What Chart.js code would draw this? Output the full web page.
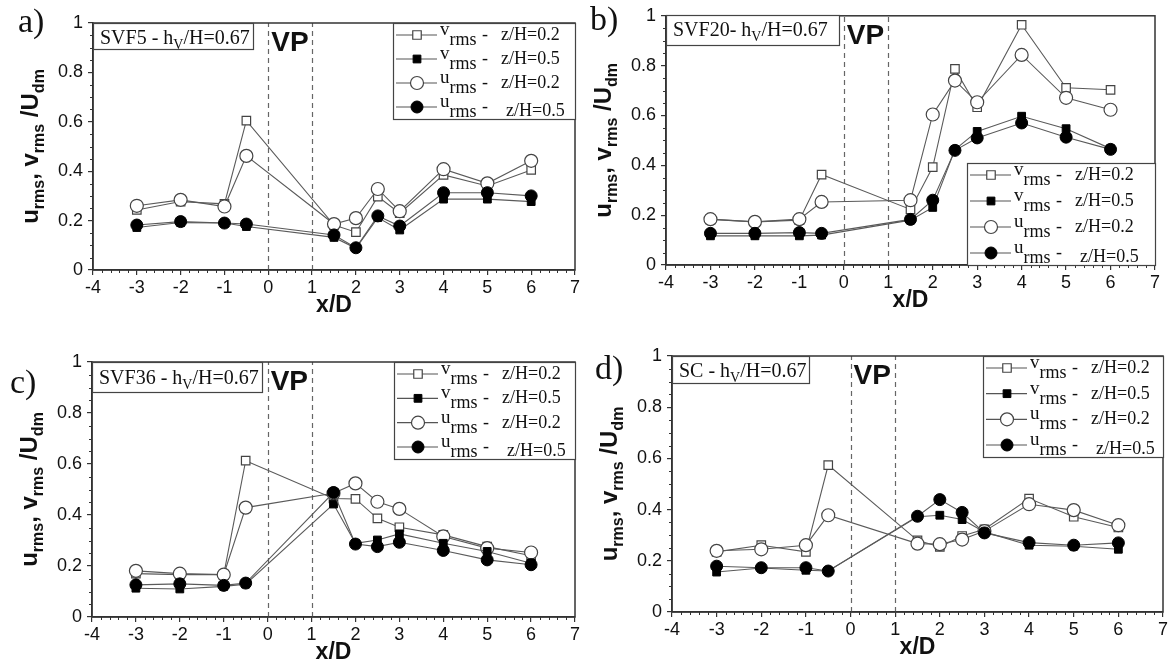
<!DOCTYPE html>
<html>
<head>
<meta charset="utf-8">
<script src="https://cdn.jsdelivr.net/npm/chart.js@4.4.0/dist/chart.umd.min.js"></script>
<style>
  body { margin: 0; background: #fff; width: 1173px; height: 665px; position: relative; overflow: hidden; }
  canvas { position: absolute; left: 0; top: 0; }
</style>
</head>
<body>
<canvas id="cA" width="1173" height="665"></canvas>
<canvas id="cB" width="1173" height="665"></canvas>
<canvas id="cC" width="1173" height="665"></canvas>
<canvas id="cD" width="1173" height="665"></canvas>
<script>
// stations x/D (same for all panels)
const xPos = [-3, -2, -1, -0.5, 1.5, 2, 2.5, 3, 4, 5, 6];
const xTickVals = [-4, -3, -2, -1, 0, 1, 2, 3, 4, 5, 6, 7];
const yTickVals = [0, 0.2, 0.4, 0.6, 0.8, 1];
const vpLines = [0, 1];

// a) SVF5
const svf5_v02 = [0.243, 0.277, 0.268, 0.605, 0.182, 0.153, 0.297, 0.230, 0.385, 0.340, 0.405];
const svf5_v05 = [0.172, 0.192, 0.190, 0.176, 0.132, 0.088, 0.212, 0.162, 0.287, 0.287, 0.277];
const svf5_u02 = [0.260, 0.284, 0.257, 0.462, 0.186, 0.210, 0.328, 0.238, 0.408, 0.351, 0.442];
const svf5_u05 = [0.182, 0.196, 0.190, 0.186, 0.142, 0.090, 0.219, 0.178, 0.313, 0.313, 0.300];
// b) SVF20
const svf20_v02 = [0.183, 0.173, 0.180, 0.363, 0.223, 0.393, 0.787, 0.633, 0.964, 0.711, 0.703];
const svf20_v05 = [0.117, 0.117, 0.117, 0.120, 0.180, 0.231, 0.463, 0.536, 0.597, 0.547, 0.467];
const svf20_u02 = [0.184, 0.173, 0.184, 0.253, 0.260, 0.604, 0.740, 0.653, 0.843, 0.671, 0.623];
const svf20_u05 = [0.127, 0.127, 0.130, 0.127, 0.183, 0.260, 0.460, 0.510, 0.570, 0.513, 0.464];
// c) SVF36
const svf36_v02 = [0.170, 0.166, 0.166, 0.613, 0.465, 0.463, 0.387, 0.352, 0.322, 0.276, 0.240];
const svf36_v05 = [0.113, 0.110, 0.120, 0.129, 0.443, 0.289, 0.302, 0.326, 0.289, 0.257, 0.211];
const svf36_u02 = [0.181, 0.170, 0.166, 0.429, 0.485, 0.524, 0.452, 0.424, 0.316, 0.270, 0.253];
const svf36_u05 = [0.126, 0.130, 0.124, 0.133, 0.488, 0.286, 0.276, 0.293, 0.261, 0.224, 0.205];
// d) SC
const sc_v02 = [0.235, 0.261, 0.235, 0.574, 0.280, 0.254, 0.297, 0.323, 0.443, 0.372, 0.330];
const sc_v05 = [0.156, 0.172, 0.163, 0.160, 0.372, 0.378, 0.361, 0.313, 0.261, 0.257, 0.245];
const sc_u02 = [0.239, 0.245, 0.261, 0.378, 0.267, 0.265, 0.283, 0.316, 0.421, 0.398, 0.339];
const sc_u05 = [0.179, 0.173, 0.173, 0.160, 0.374, 0.439, 0.389, 0.309, 0.271, 0.261, 0.270];

const panelLetters = ['a)', 'b)', 'c)', 'd)'];
const caseNames = ['SVF5 - h', 'SVF20- h', 'SVF36 - h', 'SC - h'];
const legendSym = ['v', 'v', 'u', 'u'];
const legendZ = ['z/H=0.2', 'z/H=0.5', 'z/H=0.2', 'z/H=0.5'];

const SANS = "'Liberation Sans', Arial, sans-serif";
const SERIF = "'Liberation Serif', 'Times New Roman', serif";

// marker styles, same order as legend rows
const styles = [
  { shape: 'rect', r: 6, fill: '#fff', stroke: '#444', bw: 1.2 },
  { shape: 'rect', r: 5.5, fill: '#000', stroke: '#000', bw: 1 },
  { shape: 'circle', r: 6.5, fill: '#fff', stroke: '#444', bw: 1.2 },
  { shape: 'circle', r: 6, fill: '#000', stroke: '#000', bw: 1 },
];

// page layout of each panel: plot area [left, top, right, bottom]
const layouts = [
  { area: [93, 23, 575, 270], letter: [18, 32], caseBox: [93, 23, 160, 26], caseBase: 44, legend: [393, 23, 182, 96] },
  { area: [666, 15, 1155, 265], letter: [590, 30], caseBox: [666, 15, 173, 30], caseBase: 36, legend: [967, 163, 188, 102] },
  { area: [92, 362, 575, 617], letter: [10, 393], caseBox: [92, 362, 170, 30], caseBase: 384, legend: [394, 362, 181, 97] },
  { area: [672, 356, 1163, 612], letter: [595, 379], caseBox: [672, 356, 137, 27], caseBase: 377, legend: [983, 356, 180, 101] },
];

function drawRuns(ctx, x, y, runs) {
  runs.forEach(r => {
    ctx.font = r.f;
    ctx.fillText(r.t, x, y + (r.dy || 0));
    x += ctx.measureText(r.t).width;
  });
  return x;
}
function runsWidth(ctx, runs) {
  let w = 0;
  runs.forEach(r => { ctx.font = r.f; w += ctx.measureText(r.t).width; });
  return w;
}
function marker(ctx, st, x, y) {
  ctx.beginPath();
  if (st.shape === 'rect') {
    const s = st.r * Math.SQRT1_2;
    ctx.rect(x - s, y - s, 2 * s, 2 * s);
  } else {
    ctx.arc(x, y, st.r, 0, Math.PI * 2);
  }
  ctx.fillStyle = st.fill;
  ctx.fill();
  ctx.strokeStyle = st.stroke;
  ctx.lineWidth = st.bw;
  ctx.stroke();
}

//dashed VP lines under the data, everything else on top
const deco = {
  id: 'deco',
  beforeDatasetsDraw(chart, args, o) {
    const { ctx, chartArea: { top, bottom }, scales: { x } } = chart;
    ctx.save();
    ctx.setLineDash([5, 4]);
    ctx.strokeStyle = '#666';
    ctx.lineWidth = 1.2;
    vpLines.forEach(v => {
      const px = Math.round(x.getPixelForValue(v)) + 0.5;
      ctx.beginPath();
      ctx.moveTo(px, bottom);
      ctx.lineTo(px, top);
      ctx.stroke();
    });
    ctx.restore();
  },
  afterDraw(chart, args, o) {
    const { ctx, chartArea: { left, right, top, bottom }, scales: { x, y } } = chart;
    const L = layouts[o.idx];
    ctx.save();
    // frame
    ctx.strokeStyle = '#333';
    ctx.lineWidth = 1.5;
    ctx.strokeRect(left, top, right - left, bottom - top);
    // minor ticks
    ctx.lineWidth = 1;
    ctx.beginPath();
    for (let k = -20; k <= 35; k++) {
      if (k % 5 === 0) continue;
      const px = Math.round(x.getPixelForValue(k / 5)) + 0.5;
      ctx.moveTo(px, bottom);
      ctx.lineTo(px, bottom + 3);
    }
    for (let k = 0; k <= 20; k++) {
      if (k % 4 === 0) continue;
      const py = Math.round(y.getPixelForValue(k / 20)) + 0.5;
      ctx.moveTo(left, py);
      ctx.lineTo(left - 3, py);
    }
    ctx.stroke();

    ctx.fillStyle = '#111';
    ctx.textAlign = 'left';
    ctx.textBaseline = 'alphabetic';
    // panel letter
    ctx.font = '34px ' + SERIF;
    ctx.fillText(panelLetters[o.idx], L.letter[0], L.letter[1]);

    // case box
    const cb = L.caseBox;
    ctx.fillStyle = '#fff';
    ctx.fillRect(cb[0], cb[1], cb[2], cb[3]);
    ctx.strokeStyle = '#444';
    ctx.lineWidth = 1.2;
    ctx.strokeRect(cb[0] + 0.5, cb[1] + 0.5, cb[2], cb[3]);
    ctx.fillStyle = '#111';
    drawRuns(ctx, cb[0] + 7, L.caseBase, [
      { t: caseNames[o.idx], f: '20px ' + SERIF },
      { t: 'V', f: '14px ' + SERIF, dy: 5 },
      { t: '/H=0.67', f: '20px ' + SERIF },
    ]);

    // VP
    ctx.font = 'bold 28px ' + SANS;
    ctx.fillText('VP', x.getPixelForValue(0) + 3, top + 28);

    // x title
    ctx.font = 'bold 23px ' + SANS;
    ctx.textAlign = 'center';
    ctx.fillText('x/D', (left + right) / 2, bottom + 42);
    ctx.textAlign = 'left';

    // y title, rotated
    const yr = [
      { t: 'u', f: 'bold 24px ' + SANS },
      { t: 'rms', f: 'bold 16px ' + SANS, dy: 6 },
      { t: ', ', f: 'bold 24px ' + SANS },
      { t: 'v', f: 'bold 24px ' + SANS },
      { t: 'rms', f: 'bold 16px ' + SANS, dy: 6 },
      { t: ' /', f: 'bold 24px ' + SANS },
      { t: 'U', f: 'bold 24px ' + SANS },
      { t: 'dm', f: 'bold 16px ' + SANS, dy: 6 },
    ];
    ctx.save();
    ctx.translate(left - 55, (top + bottom) / 2);
    ctx.rotate(-Math.PI / 2);
    drawRuns(ctx, -runsWidth(ctx, yr) / 2, 0, yr);
    ctx.restore();

    // legend
    const lg = L.legend;
    ctx.fillStyle = '#fff';
    ctx.fillRect(lg[0], lg[1], lg[2], lg[3]);
    ctx.strokeStyle = '#444';
    ctx.lineWidth = 1.2;
    ctx.strokeRect(lg[0] + 0.5, lg[1] + 0.5, lg[2], lg[3]);
    const step = (lg[3] - 24) / 3;
    for (let i = 0; i < 4; i++) {
      const ry = lg[1] + 12 + i * step;
      ctx.strokeStyle = '#555';
      ctx.lineWidth = 1.1;
      ctx.beginPath();
      ctx.moveTo(lg[0] + 3, ry);
      ctx.lineTo(lg[0] + 44, ry);
      ctx.stroke();
      marker(ctx, styles[i], lg[0] + 24, ry);
      ctx.fillStyle = '#111';
      drawRuns(ctx, lg[0] + 47, ry, [
        { t: legendSym[i], f: '19px ' + SERIF },
        { t: 'rms', f: '18px ' + SERIF, dy: 10 },
      ]);
      ctx.font = '18px ' + SERIF;
      ctx.fillText('-', lg[0] + 89, ry + 5);
      ctx.fillText(legendZ[i], lg[0] + (i === 3 ? 113 : 108), ry + (i === 3 ? 9 : 5));
    }
    ctx.restore();
  }
};

function makeSet(vals, st, order) {
  return {
    data: xPos.map((xv, i) => ({ x: xv, y: vals[i] })),
    borderColor: '#5a5a5a',
    borderWidth: 1.1,
    pointStyle: st.shape,
    pointRadius: st.r,
    pointBackgroundColor: st.fill,
    pointBorderColor: st.stroke,
    pointBorderWidth: st.bw,
    tension: 0,
    order: order,
  };
}

const panelData = [
  [svf5_v02, svf5_v05, svf5_u02, svf5_u05],
  [svf20_v02, svf20_v05, svf20_u02, svf20_u05],
  [svf36_v02, svf36_v05, svf36_u02, svf36_u05],
  [sc_v02, sc_v05, sc_u02, sc_u05],
];
const ids = ['cA', 'cB', 'cC', 'cD'];

const tickFont = { family: SANS, size: 18 };
const fmt = v => String(Math.round(v * 10) / 10);

panelData.forEach((series, idx) => {
  const [l, t, r, b] = layouts[idx].area;
  new Chart(document.getElementById(ids[idx]), {
    type: 'line',
    data: {
      datasets: [
        makeSet(series[0], styles[0], 3),
        makeSet(series[1], styles[1], 1),
        makeSet(series[2], styles[2], 2),
        makeSet(series[3], styles[3], 0),
      ]
    },
    options: {
      responsive: false,
      animation: false,
      devicePixelRatio: 1,
      layout: { padding: { left: l - 60, top: t, right: 1173 - r, bottom: 665 - b - 40 } },
      plugins: { legend: { display: false }, tooltip: { enabled: false }, deco: { idx: idx } },
      scales: {
        x: {
          type: 'linear', min: -4, max: 7,
          afterBuildTicks: s => { s.ticks = xTickVals.map(v => ({ value: v })); },
          afterFit: s => { s.height = 40; },
          grid: { drawOnChartArea: false, tickLength: 5, color: '#333', lineWidth: 1.2 },
          border: { color: '#333', width: 1.5 },
          ticks: { color: '#111', font: tickFont, padding: 2, maxRotation: 0, autoSkip: false, callback: fmt },
        },
        y: {
          type: 'linear', min: 0, max: 1,
          afterBuildTicks: s => { s.ticks = yTickVals.map(v => ({ value: v })); },
          afterFit: s => { s.width = 60; },
          grid: { drawOnChartArea: false, tickLength: 5, color: '#333', lineWidth: 1.2 },
          border: { color: '#333', width: 1.5 },
          ticks: { color: '#111', font: tickFont, padding: 5, autoSkip: false, callback: fmt },
        }
      }
    },
    plugins: [deco]
  });
});
</script>
</body>
</html>
